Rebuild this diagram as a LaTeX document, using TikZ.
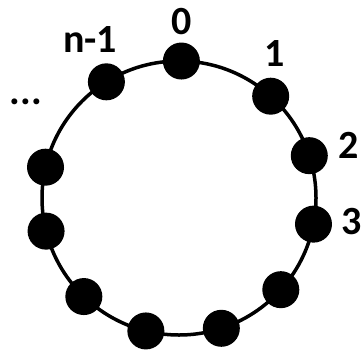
\documentclass[tikz,border=0pt]{standalone}
\usepackage{fontspec}
\setmainfont{Carlito}
\usetikzlibrary{calc}
\begin{document}
\begin{tikzpicture}[x=1pt,y=-1pt,
  dot/.style={circle,fill=black,inner sep=0pt,minimum size=37pt},
  lab/.style={font=\fontsize{40}{46}\selectfont\bfseries,inner sep=0pt}]
\useasboundingbox (0,0) rectangle (363,356);
\coordinate (c) at (179,198);
\draw[line width=3.5pt] (c) circle (137pt);
\foreach \a/\n in {89/v0,48/v1,18/v2,-11/v3,-42/v4,-72/v5,-104/v6,-134/v7,-166/v8,167/v9,122/vn}{
  \node[dot] (\n) at ($(c)+(\a:137pt)$) {};
}
\node[lab] (l0) at (182,22) {0};
\node[lab] (ln) at (90,40) {n-1};
\node[lab] (l1) at (275,54) {1};
\node[lab] (l2) at (349,145) {2};
\node[lab] (l3) at (352,222) {3};
\node[lab] (ld) at (26,102) {...};
\end{tikzpicture}
\end{document}
